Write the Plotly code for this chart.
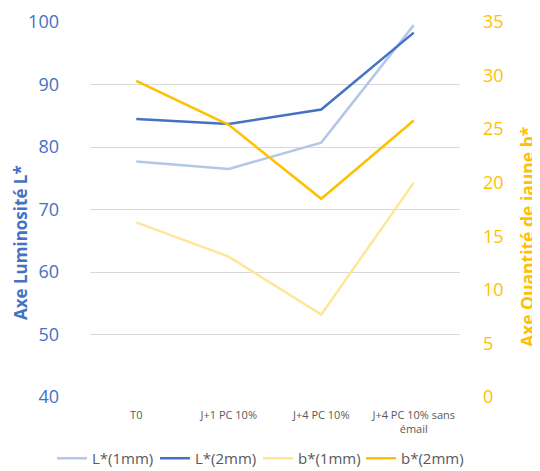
import plotly.graph_objects as go

categories = ['T0', 'J+1 PC 10%', 'J+4 PC 10%', 'J+4 PC 10% sans<br>émail']
l_1mm = [77.7, 76.5, 80.7, 99.5]
l_2mm = [84.5, 83.7, 86.0, 98.3]
b_1mm = [16.3, 13.1, 7.7, 20.0]
b_2mm = [29.5, 25.4, 18.5, 25.8]

BLUE = '#4472C4'
LIGHT_BLUE = '#B4C7E7'
GOLD = '#FFC000'
LIGHT_GOLD = '#FFE699'
GREY = '#595959'
FONT = 'Open Sans'

# the page body adds an 8px offset, so the figure is sized 8px smaller
W, H = 532, 463
L, R, T, B = 82, 80, 14, 74
plot_w = W - L - R
plot_h = H - T - B

fig = go.Figure()
fig.add_trace(go.Scatter(x=categories, y=l_1mm, name='L*(1mm)', mode='lines',
                         line=dict(color=LIGHT_BLUE, width=2.5)))
fig.add_trace(go.Scatter(x=categories, y=l_2mm, name='L*(2mm)', mode='lines',
                         line=dict(color=BLUE, width=2.5)))
fig.add_trace(go.Scatter(x=categories, y=b_1mm, name='b*(1mm)', mode='lines',
                         line=dict(color=LIGHT_GOLD, width=2.5), yaxis='y2'))
fig.add_trace(go.Scatter(x=categories, y=b_2mm, name='b*(2mm)', mode='lines',
                         line=dict(color=GOLD, width=2.5), yaxis='y2'))

fig.update_layout(
    width=W, height=H,
    margin=dict(l=L, r=R, t=T, b=B, autoexpand=False),
    plot_bgcolor='white', paper_bgcolor='white',
    font=dict(family=FONT, color=GREY),
    xaxis=dict(showgrid=False, showline=False, ticks='', automargin=False,
               range=[-0.5, 3.5], ticklabelstandoff=10,
               tickfont=dict(size=11, color=GREY)),
    yaxis=dict(range=[40, 100], dtick=10, showgrid=True, gridcolor='#D9D9D9',
               zeroline=False, ticks='', ticklabelstandoff=30, automargin=False,
               tickfont=dict(size=18, color=BLUE)),
    yaxis2=dict(range=[0, 35], dtick=5, overlaying='y', side='right',
                showgrid=False, zeroline=False, ticks='', ticklabelstandoff=22,
                automargin=False, tickfont=dict(size=18, color=GOLD)),
    # legend anchored left of the plot area so it can use the full width
    legend=dict(orientation='h', x=(44 - L) / plot_w, xanchor='left',
                y=-0.164, yanchor='middle',
                entrywidth=58, entrywidthmode='pixels',
                font=dict(size=15, color=GREY)),
    showlegend=True,
)

# axis titles, placed by pixel centre (figure coords)
titles = [
    ('<b>Axe Luminosité L*</b>', 13, 235, 17, BLUE),
    ('<b>Axe Quantité de jaune b*</b>', 519, 229, 17.5, GOLD),
]
for text, px, py, size, color in titles:
    fig.add_annotation(text=text, textangle=-90, showarrow=False,
                       x=(px - L) / plot_w, y=(H - B - py) / plot_h,
                       xref='paper', yref='paper', xanchor='center', yanchor='middle',
                       font=dict(size=size, color=color))

fig.write_html('out.html')
